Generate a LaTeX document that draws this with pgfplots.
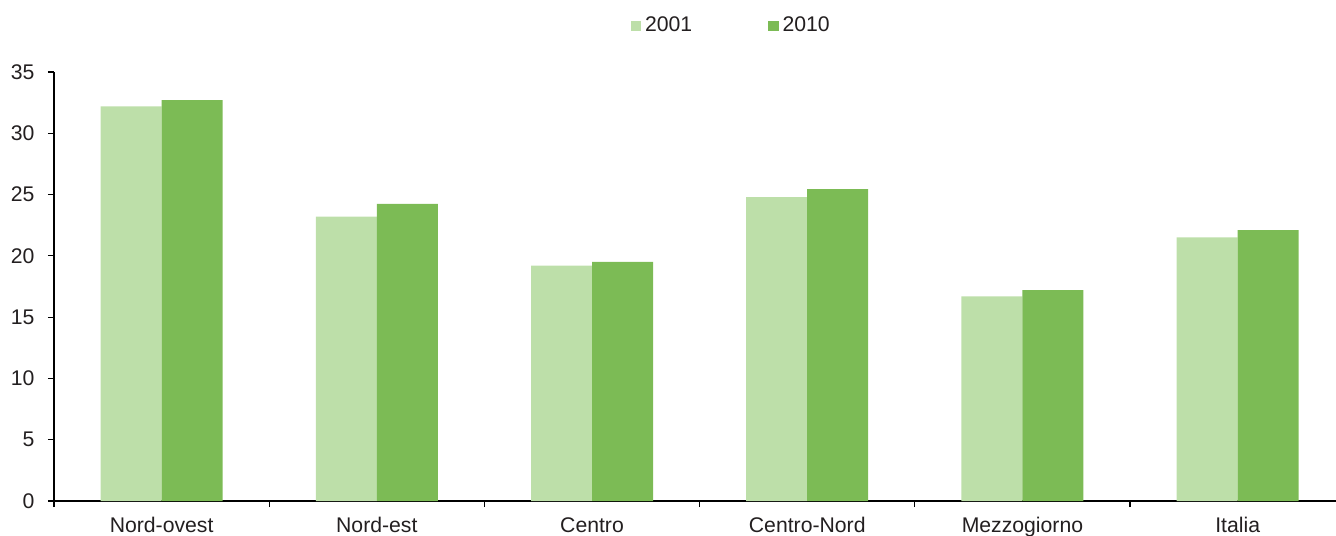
\documentclass[border=0pt]{standalone}
\usepackage{pgfplots}
\pgfplotsset{compat=1.18}
\usepackage{fontspec}
\setmainfont{Liberation Sans}
\definecolor{cA}{RGB}{189,223,169}
\definecolor{cB}{RGB}{124,187,85}
\definecolor{txt}{RGB}{35,31,32}
\begin{document}
\begin{tikzpicture}
\fontsize{10.6bp}{12bp}\selectfont
\begin{axis}[
  scale only axis,
  width=641bp, height=214.5bp,
  xmin=-0.5, xmax=5.457,
  ymin=0, ymax=35,
  ytick={0,5,...,35},
  axis x line=bottom, axis y line=left,
  axis line style={-, black, line width=0.6bp},
  tick style={black, line width=0.6bp},
  tick align=outside,
  major tick length=3bp,
  xtick={-0.5,0.5,1.5,2.5,3.5,4.5},
  xticklabels={},
  extra x ticks={0,1,2,3,4,5},
  extra x tick labels={Nord-ovest,Nord-est,Centro,Centro-Nord,Mezzogiorno,Italia},
  extra x tick style={major tick length=0pt},
  ticklabel style={font=\fontsize{10.6bp}{12bp}\selectfont, text=txt},
  /pgf/number format/assume math mode=true,
  yticklabel style={xshift=-3bp},
  xticklabel style={yshift=-4.5bp},
  ybar=0pt, bar width=30.5bp,
  clip=false,
  legend style={draw=none, fill=none, at={(rel axis cs:0.529,1)}, anchor=center, yshift=23bp,
    legend columns=2, font=\fontsize{10.6bp}{12bp}\selectfont, text=txt,
    /tikz/every even column/.append style={column sep=36bp}},
  legend image code/.code={\fill[#1] (0bp,-2.6bp) rectangle (5.2bp,2.6bp);},
  legend cell align=left,
]
\addplot[fill=cA, draw=none] coordinates {(0,32.2) (1,23.2) (2,19.2) (3,24.8) (4,16.7) (5,21.5)};
\addplot[fill=cB, draw=none] coordinates {(0,32.7) (1,24.25) (2,19.5) (3,25.45) (4,17.2) (5,22.1)};
\legend{2001,2010}
\coordinate (sw) at (rel axis cs:0,0);
\coordinate (ne) at (rel axis cs:1,1);
\end{axis}
\pgfresetboundingbox
\path[use as bounding box] ([shift={(-27bp,-17.5bp)}]sw) rectangle ([shift={(0bp,36bp)}]ne);
\end{tikzpicture}
\end{document}
